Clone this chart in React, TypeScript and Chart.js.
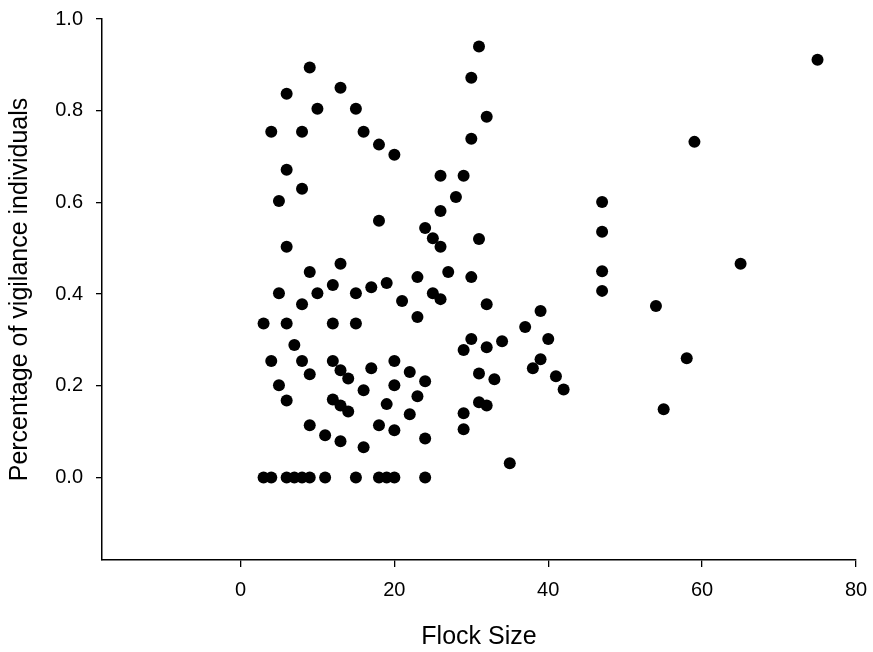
import React, { useEffect, useRef } from "react";
import { Chart, registerables } from "chart.js";

Chart.register(...registerables);

// Flock size (x) and percentage of vigilance individuals (y)
const flockSize: number[] = [
  3, 4, 6, 7, 8, 9, 11, 15, 18, 19, 20, 24,
  3, 4, 4, 5, 5, 5,
  6, 6, 6, 6, 6, 7,
  8, 8, 8, 8,
  9, 9, 9, 9,
  10, 10, 11,
  12, 12, 12, 12,
  13, 13, 13, 13, 13,
  14, 14, 15, 15, 15,
  16, 16, 16, 17, 17,
  18, 18, 18, 19, 19,
  20, 20, 20, 20, 21,
  22, 22, 23, 23, 23,
  24, 24, 24, 25, 25,
  26, 26, 26, 26, 27, 28,
  29, 29, 29, 29,
  30, 30, 30, 30,
  31, 31, 31, 31,
  32, 32, 32, 32,
  33, 34, 35, 37, 38, 39, 39, 40, 41, 42,
  47, 47, 47, 47,
  54, 55, 58, 59, 65, 75,
];

const vigilance: number[] = [
  0, 0, 0, 0, 0, 0, 0, 0, 0, 0, 0, 0,
  0.336, 0.754, 0.254, 0.402, 0.603, 0.201,
  0.837, 0.671, 0.503, 0.336, 0.168, 0.289,
  0.754, 0.630, 0.378, 0.254,
  0.894, 0.448, 0.225, 0.114,
  0.804, 0.402, 0.092,
  0.420, 0.336, 0.254, 0.170,
  0.850, 0.466, 0.234, 0.157, 0.079,
  0.216, 0.144, 0.804, 0.402, 0.336,
  0.754, 0.190, 0.066, 0.415, 0.238,
  0.726, 0.560, 0.114, 0.424, 0.160,
  0.704, 0.254, 0.201, 0.103, 0.385,
  0.230, 0.138, 0.350, 0.437, 0.177,
  0.544, 0.210, 0.085, 0.522, 0.402,
  0.658, 0.581, 0.503, 0.389, 0.448, 0.612,
  0.658, 0.278, 0.140, 0.105,
  0.872, 0.739, 0.437, 0.302,
  0.940, 0.520, 0.227, 0.164,
  0.787, 0.378, 0.284, 0.157,
  0.214, 0.297, 0.031, 0.328, 0.238, 0.363, 0.258, 0.302, 0.221, 0.192,
  0.601, 0.536, 0.450, 0.407,
  0.374, 0.149, 0.260, 0.732, 0.466, 0.911,
];

const xTicks: number[] = [0, 20, 40, 60, 80];
const yTicks: number[] = [0, 0.2, 0.4, 0.6, 0.8, 1.0];
const xTitle = "Flock Size";
const yTitle = "Percentage of vigilance individuals";

const FONT = "'Liberation Sans', Arial, Helvetica, sans-serif";

export default function App() {
  const ref = useRef<HTMLCanvasElement | null>(null);

  useEffect(() => {
    document.body.style.margin = "0";
    const canvas = ref.current;
    if (!canvas) return;
    const points = flockSize.map((x, i) => ({ x, y: vigilance[i] }));
    const chart = new Chart(canvas, {
      type: "scatter",
      data: {
        datasets: [
          {
            data: points,
            backgroundColor: "#000",
            borderWidth: 0,
            pointRadius: 6,
            pointHoverRadius: 6,
          },
        ],
      },
      options: {
        responsive: false,
        animation: false,
        devicePixelRatio: 1,
        layout: { padding: { top: 19, right: 17, left: 0, bottom: 0 } },
        plugins: {
          legend: { display: false },
          tooltip: { enabled: false },
        },
        scales: {
          x: {
            type: "linear",
            min: -18,
            max: 80,
            afterBuildTicks: (s: any) => {
              s.ticks = xTicks.map((v) => ({ value: v }));
            },
            afterFit: (s: any) => {
              s.height = 92;
              s.paddingLeft = 0;
              s.paddingRight = 0;
            },
            ticks: {
              includeBounds: false,
              color: "#000",
              font: { family: FONT, size: 20 },
              padding: 11,
              maxRotation: 0,
              callback: (v: any) => String(v),
            },
            grid: {
              display: true,
              drawOnChartArea: false,
              drawTicks: true,
              tickLength: 7,
              color: "#000",
              lineWidth: 1.3,
            },
            border: { display: true, color: "#000", width: 1.5 },
            title: {
              display: true,
              text: xTitle,
              color: "#000",
              font: { family: FONT, size: 25 },
              padding: { top: 12, bottom: 0 },
            },
          },
          y: {
            type: "linear",
            min: -0.18,
            max: 1.0,
            afterBuildTicks: (s: any) => {
              s.ticks = yTicks.map((v) => ({ value: v }));
            },
            afterFit: (s: any) => {
              s.width = 102;
              s.paddingTop = 0;
              s.paddingBottom = 0;
            },
            ticks: {
              includeBounds: false,
              color: "#000",
              font: { family: FONT, size: 20 },
              padding: 13,
              callback: (v: any) => Number(v).toFixed(1),
            },
            grid: {
              display: true,
              drawOnChartArea: false,
              drawTicks: true,
              tickLength: 6,
              color: "#000",
              lineWidth: 1.3,
            },
            border: { display: true, color: "#000", width: 1.5 },
            title: {
              display: true,
              text: yTitle,
              color: "#000",
              font: { family: FONT, size: 25 },
              padding: { top: 5, bottom: 0 },
            },
          },
        },
      },
    });
    return () => chart.destroy();
  }, []);

  return (
    <div style={{ position: "absolute", left: 0, top: 0, width: 873, height: 652 }}>
      <canvas ref={ref} width={873} height={652} style={{ display: "block" }} />
    </div>
  );
}
